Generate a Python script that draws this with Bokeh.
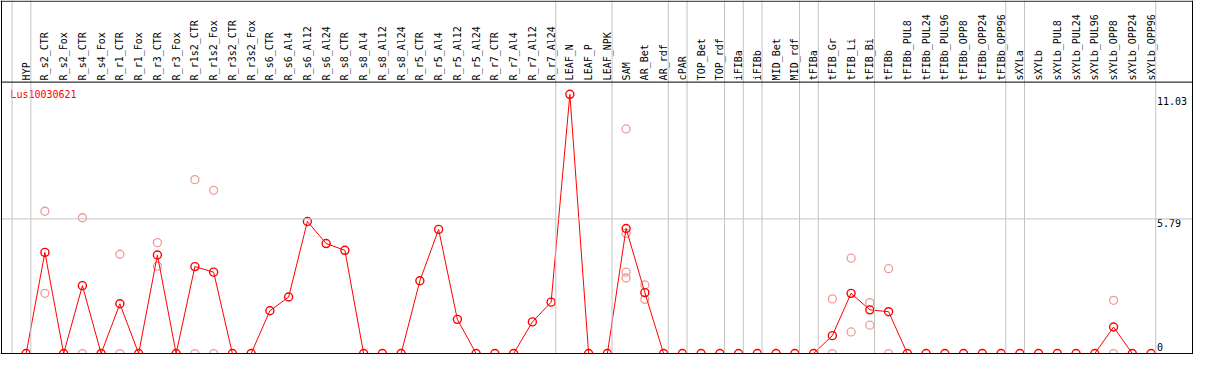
import numpy as np
from bokeh.plotting import figure
from bokeh.models import Range1d, Span, ColumnDataSource
from bokeh.core.properties import value
from bokeh.embed import file_html
from bokeh.resources import INLINE

# ---------------- data ----------------
gene = "Lus10030621"

categories = [
    "HYP", "R_s2_CTR", "R_s2_Fox", "R_s4_CTR", "R_s4_Fox", "R_r1_CTR", "R_r1_Fox",
    "R_r3_CTR", "R_r3_Fox", "R_r1s2_CTR", "R_r1s2_Fox", "R_r3s2_CTR", "R_r3s2_Fox",
    "R_s6_CTR", "R_s6_Al4", "R_s6_Al12", "R_s6_Al24", "R_s8_CTR", "R_s8_Al4",
    "R_s8_Al12", "R_s8_Al24", "R_r5_CTR", "R_r5_Al4", "R_r5_Al12", "R_r5_Al24",
    "R_r7_CTR", "R_r7_Al4", "R_r7_Al12", "R_r7_Al24", "LEAF_N", "LEAF_P", "LEAF_NPK",
    "SAM", "AR_Bet", "AR_rdf", "cPAR", "TOP_Bet", "TOP_rdf", "iFIBa", "iFIBb",
    "MID_Bet", "MID_rdf", "tFIBa", "tFIB_Gr", "tFIB_Li", "tFIB_Bi", "tFIBb",
    "tFIBb_PUL8", "tFIBb_PUL24", "tFIBb_PUL96", "tFIBb_OPP8", "tFIBb_OPP24",
    "tFIBb_OPP96", "sXYLa", "sXYLb", "sXYLb_PUL8", "sXYLb_PUL24", "sXYLb_PUL96",
    "sXYLb_OPP8", "sXYLb_OPP24", "sXYLb_OPP96",
]

mean_values = [
    0, 4.35, 0, 2.92, 0, 2.14, 0, 4.24, 0, 3.74, 3.50, 0, 0,
    1.84, 2.43, 5.68, 4.73, 4.44, 0, 0, 0, 3.13, 5.34, 1.47, 0, 0, 0, 1.36, 2.21,
    11.15, 0, 0, 5.38, 2.62, 0,
    0, 0, 0, 0, 0, 0, 0, 0, 0.77, 2.59, 1.88, 1.80,
    0, 0, 0, 0, 0, 0, 0, 0, 0, 0, 0, 1.14, 0, 0,
]

rep_categories = [
    "R_s2_CTR", "R_s2_CTR", "R_s4_CTR", "R_s4_CTR", "R_r1_CTR", "R_r1_CTR",
    "R_r3_CTR", "R_r3_CTR", "R_r1s2_CTR", "R_r1s2_CTR", "R_r1s2_Fox", "R_r1s2_Fox",
    "SAM", "SAM", "SAM", "SAM", "AR_Bet", "AR_Bet",
    "tFIB_Gr", "tFIB_Gr", "tFIB_Li", "tFIB_Li", "tFIB_Bi", "tFIB_Bi",
    "tFIBb", "tFIBb", "sXYLb_OPP8", "sXYLb_OPP8",
]
rep_values = [
    6.12, 2.59, 5.84, 0, 4.27, 0,
    4.77, 3.76, 7.48, 0, 7.02, 0,
    9.66, 5.17, 3.50, 3.25, 2.95, 2.33,
    2.35, 0, 4.10, 0.93, 2.19, 1.22,
    3.65, 0, 2.29, 0,
]

# first category of each column group (group separators)
group_starts = ["HYP", "R_s2_CTR", "LEAF_N", "SAM", "cPAR", "TOP_Bet", "iFIBa",
                "iFIBb", "MID_Bet", "tFIBa", "tFIB_Gr", "tFIBb", "sXYLa", "sXYLb", None]

y_tick_values = [0, 5.79, 11.03]
y_tick_labels = ["0", "5.79", "11.03"]

# ---------------- layout ----------------
W, H = 1193, 354
PX0, PXSTEP = 26.0, 19.0          # reference pixel layout of columns
YZERO, YSCALE = 369.0, 24.3       # reference pixel of value 0, pixels per unit
REF_W, REF_H = 1209.0, 370.0

def xd(px):
    return (px - PX0) / PXSTEP

def yd(py):
    return (YZERO - py) / YSCALE

x_idx = {c: i for i, c in enumerate(categories)}
xs = np.arange(len(categories), dtype=float)

p = figure(width=W, height=H, output_backend="svg", toolbar_location=None,
           x_range=Range1d(xd(0), xd(REF_W)), y_range=Range1d(yd(REF_H), yd(0)),
           x_axis_location=None, y_axis_location=None,
           min_border=0, min_border_left=0, min_border_right=0,
           min_border_top=0, min_border_bottom=0,
           outline_line_color=None, background_fill_color="white",
           border_fill_color="white")
p.grid.visible = False

GRAY = "#c4c4c4"
FONT = value("DejaVu Sans Mono")

# horizontal grid line at middle tick
for v in y_tick_values[1:-1]:
    p.add_layout(Span(location=v, dimension="width", line_color=GRAY, line_width=1))

# group separators
sep_x = [(x_idx[g] if g is not None else len(categories)) - 0.75 for g in group_starts]
for sx in sep_x:
    p.add_layout(Span(location=sx, dimension="height", line_color=GRAY, line_width=1))

# black frame lines
p.add_layout(Span(location=yd(0.7), dimension="width", line_color="black", line_width=1))
p.add_layout(Span(location=yd(85.3), dimension="width", line_color="black", line_width=1))
p.add_layout(Span(location=0, dimension="width", line_color="black", line_width=1))
p.add_layout(Span(location=xd(1.0), dimension="height", line_color="black", line_width=1))
p.add_layout(Span(location=xd(1208.0), dimension="height", line_color="black", line_width=1))

# replicate points (pale)
rep_src = ColumnDataSource(dict(x=[float(x_idx[c]) for c in rep_categories], y=rep_values))
p.scatter("x", "y", source=rep_src, marker="circle", size=8, fill_color=None,
          line_color="#f09a9a", line_width=1.3)

# mean line + points
main_src = ColumnDataSource(dict(x=xs, y=mean_values))
p.line("x", "y", source=main_src, line_color="#ff0000", line_width=1)
p.scatter("x", "y", source=main_src, marker="circle", size=8, fill_color=None,
          line_color="#ff0000", line_width=1.4)

# column labels (vertical)
lab_src = ColumnDataSource(dict(x=xs, y=[yd(83.5)] * len(categories), t=categories))
p.text("x", "y", text="t", source=lab_src, angle=np.pi / 2,
       text_font=FONT, text_font_size="10px", text_align="left",
       text_baseline="middle", text_color="black")

# gene name
p.text(x=[xd(10)], y=[yd(92)], text=[gene], text_font=FONT, text_font_size="10px",
       text_align="left", text_baseline="top", text_color="#ff0000")

# y tick labels (right side)
TX = xd(1172)
p.text(x=[TX] * 2, y=y_tick_values[1:], text=y_tick_labels[1:], text_font=FONT,
       text_font_size="10px", text_align="left", text_baseline="top", text_color="black")
p.text(x=[TX], y=[y_tick_values[0] + 0.12], text=y_tick_labels[:1], text_font=FONT,
       text_font_size="10px", text_align="left", text_baseline="bottom", text_color="black")

open("out.html", "w").write(file_html(p, INLINE))
